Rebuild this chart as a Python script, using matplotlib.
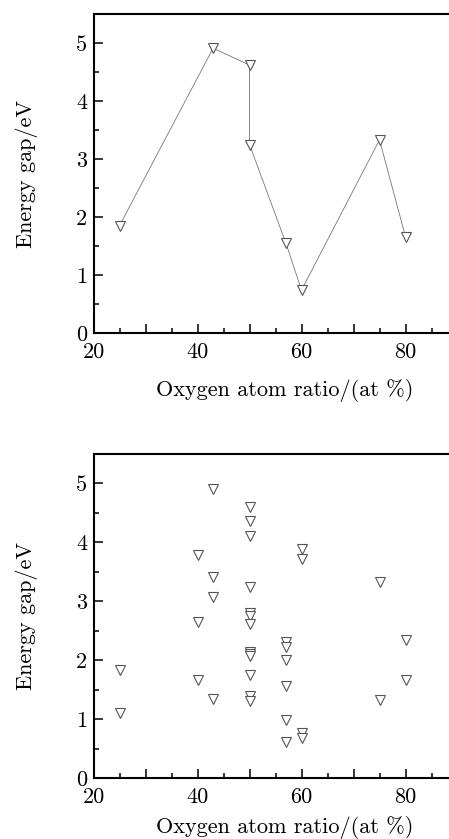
import matplotlib
matplotlib.use("Agg")
import matplotlib.pyplot as plt
from matplotlib.ticker import MultipleLocator, FuncFormatter

plt.rcParams['font.family'] = ['cmr10', 'DejaVu Serif']
plt.rcParams['axes.formatter.use_mathtext'] = True
plt.rcParams['mathtext.fontset'] = 'cm'

# Top panel: connected series
top_x = [25, 43, 50, 50, 57, 60, 75, 80]
top_y = [1.85, 4.91, 4.62, 3.25, 1.55, 0.74, 3.33, 1.66]

# Bottom panel: scatter of all reported gaps
bot_x = [25, 25,
         40, 40, 40,
         43, 43, 43, 43,
         50, 50, 50, 50, 50, 50, 50, 50, 50, 50, 50, 50, 50,
         57, 57, 57, 57, 57, 57,
         60, 60, 60, 60,
         75, 75,
         80, 80]
bot_y = [1.84, 1.10,
         3.79, 2.64, 1.67,
         4.90, 3.41, 3.08, 1.34,
         4.60, 4.36, 4.11, 3.25, 2.80, 2.75, 2.62, 2.14, 2.10, 2.07, 1.75, 1.40, 1.30,
         2.31, 2.22, 2.00, 1.56, 0.99, 0.61,
         3.89, 3.71, 0.76, 0.68,
         3.32, 1.32,
         2.34, 1.67]

x_label = "Oxygen atom ratio/(at %)"
y_label = "Energy gap/eV"
x_ticklabels = {20: "20", 40: "40", 60: "60", 80: "80"}

W, H = 449, 839
fig = plt.figure(figsize=(W / 100, H / 100), dpi=100)

def px_axes(left, top, bottom, right):
    return fig.add_axes([left / W, (H - bottom) / H, (right - left) / W, (bottom - top) / H])

ax1 = px_axes(93.5, 14, 333, 93.5 + 364)
ax2 = px_axes(93.5, 454, 778, 93.5 + 364)

def style(ax, xlab_y):
    ax.set_xlim(20, 90)
    ax.set_ylim(0, 5.5)
    ax.xaxis.set_major_locator(MultipleLocator(10))
    ax.xaxis.set_minor_locator(MultipleLocator(5))
    ax.yaxis.set_major_locator(MultipleLocator(1))
    ax.yaxis.set_minor_locator(MultipleLocator(0.5))
    ax.xaxis.set_major_formatter(FuncFormatter(lambda v, p: x_ticklabels.get(int(round(v)), "")))
    ax.yaxis.set_major_formatter(FuncFormatter(lambda v, p: "%d" % round(v)))
    ax.tick_params(which='both', direction='in', top=False, right=False, width=1.1, labelsize=16)
    ax.tick_params(which='major', length=6.5)
    ax.tick_params(which='minor', length=3.5)
    ax.tick_params(axis='x', which='major', pad=7)
    ax.tick_params(axis='y', which='major', pad=4.5)
    for s in ax.spines.values():
        s.set_linewidth(1.5)
    ax.spines['right'].set_visible(False)
    ax.set_xlabel(x_label, fontsize=16)
    ax.set_ylabel(y_label, fontsize=16)
    ax.xaxis.set_label_coords(0.526, xlab_y)
    ax.yaxis.set_label_coords(-0.152, 0.5)

style(ax1, -0.144)
style(ax2, -0.117)

ax1.plot(top_x, top_y, color='#777777', lw=0.6, marker='v', ms=7.2,
         mfc='white', mec='#555555', mew=0.8, zorder=3)
ax2.plot(bot_x, bot_y, ls='none', marker='v', ms=7.2,
         mfc='white', mec='#555555', mew=0.8, zorder=3)

fig.savefig("out.png", dpi=100)
